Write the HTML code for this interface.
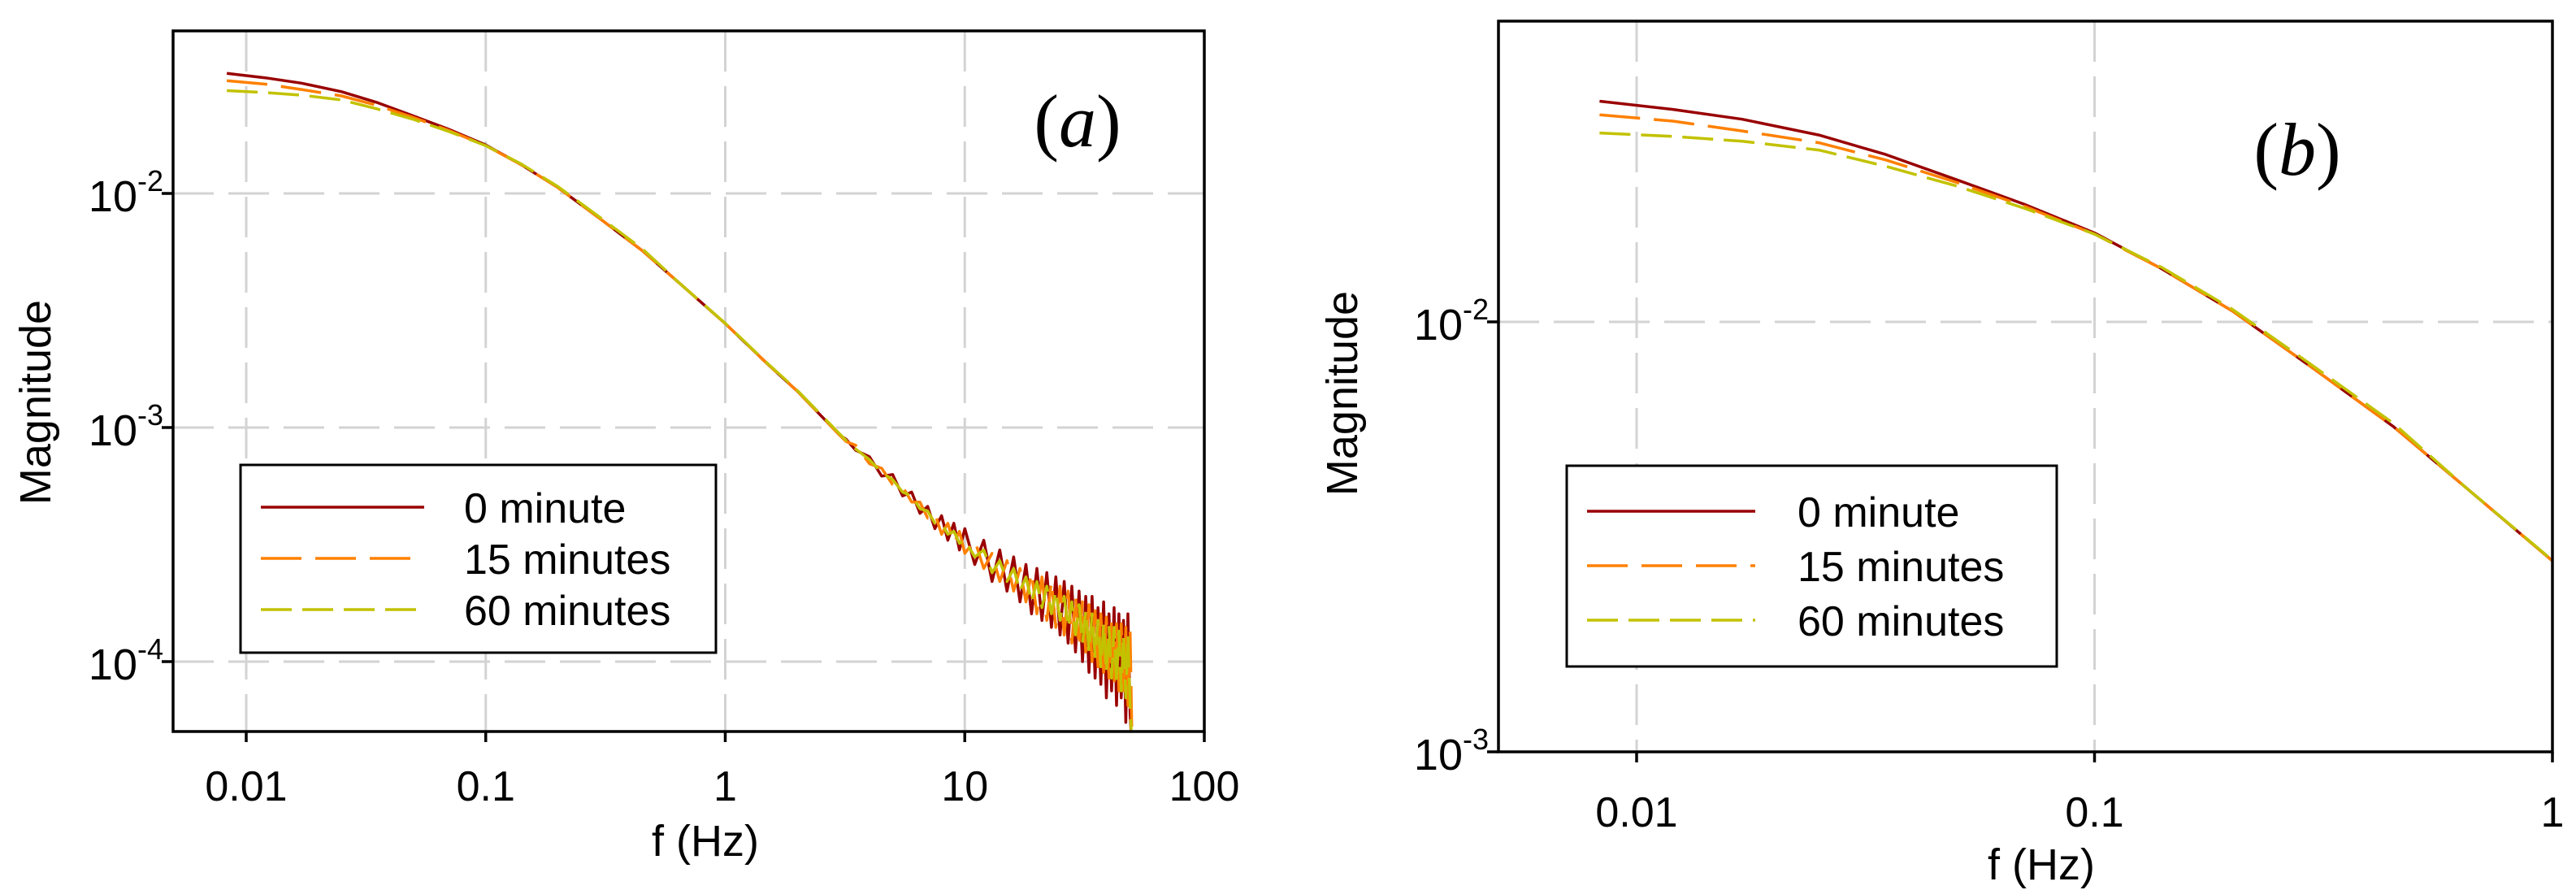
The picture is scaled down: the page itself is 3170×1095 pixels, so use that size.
<!DOCTYPE html>
<html><head><meta charset="utf-8">
<style>
html,body{margin:0;padding:0;background:#fff;}
svg{display:block;font-family:"Liberation Sans",Arial,sans-serif;}
</style></head>
<body>
<svg id="chart" width="3170" height="1095" viewBox="0 0 3170 1095" xmlns="http://www.w3.org/2000/svg"></svg>
<script>
// ---- data ----
const seriesNames = ["0 minute", "15 minutes", "60 minutes"];
const baseFreq = [0.0083,0.012,0.017,0.025,0.035,0.05,0.07,0.1,0.14,0.2,0.3,0.45,0.65,1,1.5,2,3];
const mag0 = [0.0326,0.0312,0.0296,0.0272,0.0245,0.0214,0.0188,0.0161,0.0133,0.0106,0.0078,0.0057,0.0041,0.00278,0.00187,0.00143,0.00093];
const mag15 = [0.0303,0.0293,0.0278,0.0261,0.0238,0.0211,0.0186,0.0160,0.0133,0.0106,0.0078,0.0057,0.0041,0.00278,0.00187,0.00143,0.00093];
const mag60 = [0.0275,0.0270,0.0263,0.0251,0.0230,0.0207,0.0184,0.0160,0.0134,0.0107,0.0079,0.0058,0.0041,0.00279,0.00188,0.00144,0.00094];
const tailFreq = [3.2,3.5,4,4.5,5,5.5,6,6.5,7,7.5,8,8.5,9,9.5,10,11,12,13,14,15,16,17,18,19,20,21,22,23,24,25,26,27,28,29,30,31,32,33,34,35,36,37,38,39,40,41,42,43,44,45,46,47,48,49,50];
// tail values in units of 1e-4
const tail0 = [8.9,8.0,7.5,6.2,6.3,5.1,5.3,4.3,4.6,3.7,4.2,3.3,3.9,3.0,3.7,2.6,3.3,2.2,3.0,2.0,2.8,1.8,2.6,1.6,2.5,1.5,2.4,1.4,2.3,1.3,2.2,1.2,2.1,1.1,2.0,1.0,1.9,0.9,1.9,0.85,1.7,0.8,1.8,0.7,1.6,0.75,1.7,0.65,1.6,0.7,1.5,0.55,1.6,0.6,0.4];
const tail15 = [8.7,8.4,7.0,6.7,5.7,5.6,4.8,4.8,4.1,4.3,3.5,3.9,3.2,3.6,2.9,3.3,2.5,2.9,2.2,2.7,2.0,2.5,1.8,2.4,1.6,2.3,1.5,2.2,1.4,2.1,1.3,2.0,1.2,1.9,1.15,1.8,1.1,1.75,1.0,1.65,0.95,1.6,0.9,1.55,0.85,1.5,0.8,1.45,0.75,1.45,0.7,1.4,0.65,1.35,0.4];
const tail60 = [8.8,8.1,7.3,6.4,6.0,5.3,5.1,4.5,4.4,3.9,3.9,3.5,3.6,3.2,3.3,2.8,3.0,2.4,2.7,2.2,2.5,2.0,2.3,1.8,2.2,1.7,2.1,1.6,2.0,1.5,1.9,1.4,1.8,1.3,1.75,1.2,1.65,1.1,1.6,1.05,1.5,0.95,1.45,0.9,1.4,0.85,1.4,0.8,1.35,0.75,1.3,0.7,1.3,0.65,0.4];
const xTicksA = [0.01,0.1,1,10,100];
const xTickLabelsA = ["0.01","0.1","1","10","100"];
const yTicksA = [-2,-3,-4];
const xTicksB = [0.01,0.1,1];
const xTickLabelsB = ["0.01","0.1","1"];
const yTicksB = [-2,-3];

const NS = "http://www.w3.org/2000/svg";
const svg = document.getElementById("chart");
function mk(tag, attrs, parent){const e=document.createElementNS(NS,tag);for(const k in attrs)e.setAttribute(k,attrs[k]);(parent||svg).appendChild(e);return e;}
const colors = ["#990000","#ff8000","#c2c200"];
const dashes = ["none","50 17","38 13"];

function panel(cfg){
  const g = mk("g",{});
  
  
  const X = f => cfg.x0 + cfg.xd*(Math.log10(f) - cfg.lx0);
  const Y = m => cfg.y0 - cfg.yd*(Math.log10(m) - cfg.ly0);
  const clipId = cfg.name+"-clip";
  const cp = mk("clipPath",{id:clipId},g);
  mk("rect",{x:cfg.L,y:cfg.T,width:cfg.R-cfg.L,height:cfg.B-cfg.T},cp);
  cfg.xGrid.forEach(f=>{
    const l = mk("line",{x1:X(f),x2:X(f),y1:cfg.T,y2:cfg.B,stroke:"#d3d3d3","stroke-width":3,"stroke-dasharray":"50 18"},g);
    
    
  });
  cfg.yGrid.forEach(p=>{
    const l = mk("line",{x1:cfg.L,x2:cfg.R,y1:Y(Math.pow(10,p)),y2:Y(Math.pow(10,p)),stroke:"#d3d3d3","stroke-width":3,"stroke-dasharray":"50 18"},g);
    
    
  });
  const plotG = mk("g",{"clip-path":"url(#"+clipId+")"},g);
  cfg.series.forEach((s,i)=>{
    const pts = s.map(p=>X(p[0]).toFixed(1)+","+Y(p[1]).toFixed(1)).join(" ");
    const pl = mk("polyline",{points:pts,fill:"none",stroke:colors[i],"stroke-width":3.5,"stroke-dasharray":dashes[i],"stroke-linejoin":"round"},plotG);
    
    
  });
  const fr = mk("rect",{x:cfg.L,y:cfg.T,width:cfg.R-cfg.L,height:cfg.B-cfg.T,fill:"none",stroke:"#000","stroke-width":3.5},g);
  
  
  cfg.xTicks.forEach((f,i)=>{
    mk("line",{x1:X(f),x2:X(f),y1:cfg.B,y2:cfg.B+13,stroke:"#000","stroke-width":3.5},g);
    const t = mk("text",{x:X(f),y:cfg.B+cfg.xlDy,"font-size":52,"text-anchor":"middle"},g);
    t.textContent = cfg.xLabels[i];
    
    
  });
  cfg.yTicks.forEach(p=>{
    const y = Y(Math.pow(10,p));
    mk("line",{x1:cfg.L-14,x2:cfg.L,y1:y,y2:y,stroke:"#000","stroke-width":3.5},g);
    const t = mk("text",{x:cfg.L-44,y:y+22,"font-size":54,"text-anchor":"end"},g);
    t.textContent = "10";
    
    
    const s = mk("text",{x:cfg.L-44,y:y-3,"font-size":36,"text-anchor":"start"},g);
    s.textContent = String(p);
    
    
  });
  const xt = mk("text",{x:cfg.xtX,y:cfg.xtY,"font-size":54,"text-anchor":"middle"},g);
  xt.textContent = "f (Hz)";
  
  
  const yt = mk("text",{x:0,y:0,"font-size":54,"text-anchor":"middle",transform:"translate("+cfg.ytX+","+cfg.ytY+") rotate(-90)"},g);
  yt.textContent = "Magnitude";
  
  
  const pl = mk("text",{x:cfg.plX,y:cfg.plY,"font-size":92,"text-anchor":"middle","font-family":"Liberation Serif, serif"},g);
  const o1 = mk("tspan",{},pl); o1.textContent="(";
  const o2 = mk("tspan",{"font-style":"italic"},pl); o2.textContent=cfg.letter;
  const o3 = mk("tspan",{},pl); o3.textContent=")";
  
  
  const lg = mk("g",{},g);
  
  
  mk("rect",{x:cfg.lgX,y:cfg.lgY,width:cfg.lgW,height:cfg.lgH,fill:"#fff",stroke:"#000","stroke-width":3},lg);
  seriesNames.forEach((n,i)=>{
    const ly = cfg.lgY+cfg.lgRow0+i*cfg.lgStep;
    const ln = mk("line",{x1:cfg.lgX+25,x2:cfg.lgX+25+cfg.lgLineW,y1:ly,y2:ly,stroke:colors[i],"stroke-width":3.5,"stroke-dasharray":dashes[i]},lg);
    
    
    const t = mk("text",{x:cfg.lgX+cfg.lgTextDx,y:ly+19,"font-size":52},lg);
    t.textContent = n;
    
    
  });
}

function build(base, tail){
  const out = baseFreq.map((f,i)=>[f,base[i]]);
  tailFreq.forEach((f,i)=>out.push([f,tail[i]*1e-4]));
  return out;
}
const sA = [build(mag0,tail0),build(mag15,tail15),build(mag60,tail60)];
const sB = [baseFreq.map((f,i)=>[f,mag0[i]]),baseFreq.map((f,i)=>[f,mag15[i]]),baseFreq.map((f,i)=>[f,mag60[i]])];

panel({name:"panel-a",letter:"a",L:213,R:1482,T:38,B:900,x0:303,lx0:-2,xd:294.75,y0:238,ly0:-2,yd:288,
  xGrid:[0.01,0.1,1,10],yGrid:[-2,-3,-4],xTicks:xTicksA,xLabels:xTickLabelsA,yTicks:yTicksA,series:sA,
  xlDy:85,xtX:868,xtY:1053,ytX:62,ytY:495,plX:1326,plY:180,
  lgX:296,lgY:572,lgW:585,lgH:231,lgRow0:52,lgStep:63,lgLineW:201,lgTextDx:275});
panel({name:"panel-b",letter:"b",L:1844,R:3141,T:26,B:925,x0:2014,lx0:-2,xd:563.5,y0:396,ly0:-2,yd:529,
  xGrid:[0.01,0.1],yGrid:[-2],xTicks:xTicksB,xLabels:xTickLabelsB,yTicks:yTicksB,series:sB,
  xlDy:92,xtX:2512,xtY:1082,ytX:1670,ytY:484,plX:2827,plY:215,
  lgX:1928,lgY:573,lgW:603,lgH:247,lgRow0:56,lgStep:67,lgLineW:207,lgTextDx:284});
</script>
</body></html>
